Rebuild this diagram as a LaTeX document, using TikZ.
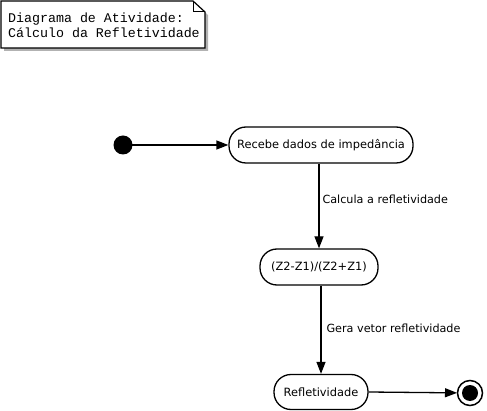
\documentclass[tikz,border=0pt]{standalone}
\usepackage{fontspec}
\setmainfont{DejaVu Sans}
\newfontfamily\notefont{Liberation Mono}
\usetikzlibrary{arrows.meta}
\begin{document}
\begin{tikzpicture}[x=1pt,y=-1pt,
  activity/.style={draw,line width=1.3pt,rounded corners=17pt,minimum height=36pt,
    inner xsep=6pt,font=\fontsize{11.4}{13}\selectfont},
  flow/.style={line width=1.3pt,-{Triangle[length=12pt,width=9pt]}},
  flowlabel/.style={font=\fontsize{11.2}{13}\selectfont,anchor=west}]
  \useasboundingbox (0,0) rectangle (487,411);

  % note
  \fill[gray!60] (4,4) -- (196,4) -- (208,15) -- (208,51) -- (4,51) -- cycle;
  \draw[line width=1.2pt,fill=white] (1,1) -- (193,1) -- (205,12) -- (205,48) -- (1,48) -- cycle;
  \draw[line width=1pt] (193,1) -- (193,12) -- (205,12);
  \node[anchor=west,align=left,font=\notefont\fontsize{13.3}{15}\selectfont,inner sep=0pt]
    (note) at (8,25) {Diagrama de Atividade:\\Cálculo da Refletividade};

  % states
  \fill (123,145) circle (9.5);
  \coordinate (start) at (123,145);
  \node[activity,minimum width=184pt] (recebe) at (321,145) {Recebe dados de impedância};
  \node[activity,minimum width=118pt] (calc) at (319,267) {(Z2-Z1)/(Z2+Z1)};
  \node[activity,minimum width=94pt,minimum height=35pt] (refl) at (321,392) {Refletividade};
  \draw[line width=1.5pt,fill=white] (470,393) circle (12.5);
  \fill (470,393) circle (8);
  \coordinate (fim) at (470,393);

  % transitions
  \draw[flow,shorten <=9pt] (start) -- (recebe);
  \draw[flow] (recebe.south -| calc) -- (calc);
  \draw[flow] (calc.south -| refl) -- (refl);
  \draw[flow,shorten >=13pt] (refl.east) -- (fim);
  \node[flowlabel] (lbl1) at (319,199) {Calcula a refletividade};
  \node[flowlabel] (lbl2) at (323,328) {Gera vetor refletividade};

\end{tikzpicture}
\end{document}
